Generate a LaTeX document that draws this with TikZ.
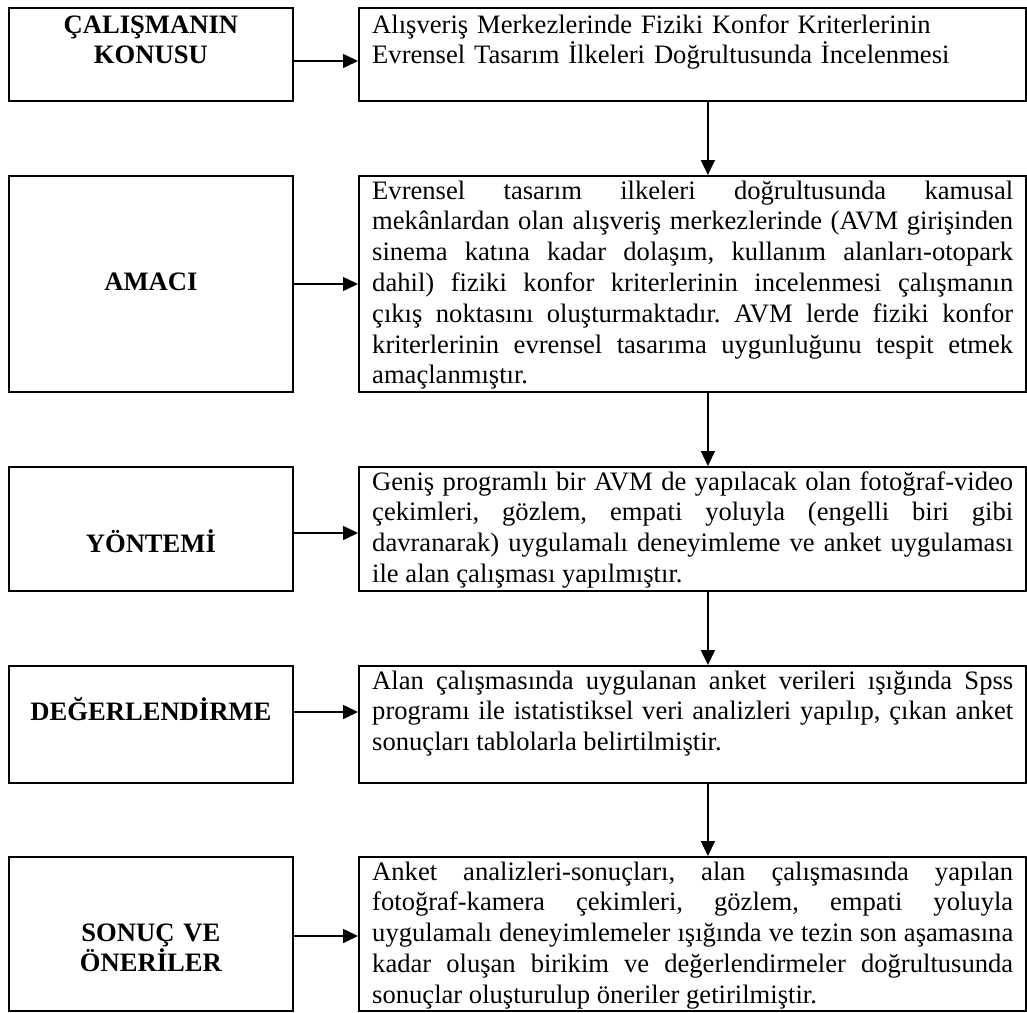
\documentclass[tikz,border=0pt]{standalone}
\usepackage{fontspec}
\setmainfont{Liberation Serif}
\usetikzlibrary{arrows.meta,calc}
\hyphenpenalty=10000
\exhyphenpenalty=10000
\tolerance=10000
\frenchspacing
\newcommand\bodysize{\fontsize{26.6}{30.8}\selectfont\frenchspacing}
\tikzset{
  box/.style={draw, line width=1.8pt, anchor=north west, inner sep=0pt},
  lbox/.style={box, minimum width=284pt},
  rbox/.style={box, minimum width=667pt},
  body/.style={anchor=base west, inner sep=0pt, text width=641pt, align=justify, font=\bodysize},
  lab/.style={anchor=base, inner sep=0pt, text width=284pt, align=center, font=\bodysize\bfseries},
  arr/.style={line width=1.6pt, -{Triangle[length=15pt,width=14pt]}},
}
\begin{document}
\begin{tikzpicture}
\fill[white] (0,0) rectangle (1027pt,-1012pt);
\useasboundingbox (0,0) rectangle (1027pt,-1012pt);

% boxes
\node[lbox, minimum height=93pt]  (l1) at (8pt,-7pt) {};
\node[rbox, minimum height=93pt]  (r1) at (358pt,-7pt) {};
\node[lbox, minimum height=216pt] (l2) at (8pt,-175pt) {};
\node[rbox, minimum height=216pt] (r2) at (358pt,-175pt) {};
\node[lbox, minimum height=124pt] (l3) at (8pt,-466pt) {};
\node[rbox, minimum height=124pt] (r3) at (358pt,-466pt) {};
\node[lbox, minimum height=117pt] (l4) at (8pt,-665pt) {};
\node[rbox, minimum height=117pt] (r4) at (358pt,-665pt) {};
\node[lbox, minimum height=154pt] (l5) at (8pt,-856pt) {};
\node[rbox, minimum height=154pt] (r5) at (358pt,-856pt) {};

% labels
\node[lab] (t1) at ($(l1.north)+(0,-26pt)$) {ÇALIŞMANIN\\KONUSU};
\node[lab] (t2) at ($(l2.north)+(0,-115pt)$) {AMACI};
\node[lab] (t3) at ($(l3.north)+(0,-86pt)$) {YÖNTEMİ};
\node[lab] (t4) at ($(l4.north)+(0,-55pt)$) {DEĞERLENDİRME};
\node[lab] (t5) at ($(l5.north)+(0,-85pt)$) {SONUÇ VE\\ÖNERİLER};

% texts
\node[body, align=left] (b1) at ($(r1.north west)+(14pt,-26pt)$)
  {Alışveriş Merkezlerinde Fiziki Konfor Kriterlerinin\\Evrensel Tasarım İlkeleri Doğrultusunda İncelenmesi};
\node[body] (b2) at ($(r2.north west)+(14pt,-24pt)$)
  {Evrensel tasarım ilkeleri doğrultusunda kamusal\linebreak
   mekânlardan olan alışveriş merkezlerinde (AVM girişinden\linebreak
   sinema katına kadar dolaşım, kullanım alanları-otopark\linebreak
   dahil) fiziki konfor kriterlerinin incelenmesi çalışmanın\linebreak
   çıkış noktasını oluşturmaktadır. AVM lerde fiziki konfor\linebreak
   kriterlerinin evrensel tasarıma uygunluğunu tespit etmek\linebreak
   amaçlanmıştır.};
\node[body] (b3) at ($(r3.north west)+(14pt,-24pt)$)
  {Geniş programlı bir AVM de yapılacak olan fotoğraf-video\linebreak
   çekimleri, gözlem, empati yoluyla (engelli biri gibi\linebreak
   davranarak) uygulamalı deneyimleme ve anket uygulaması\linebreak
   ile alan çalışması yapılmıştır.};
\node[body] (b4) at ($(r4.north west)+(14pt,-24pt)$)
  {Alan çalışmasında uygulanan anket verileri ışığında Spss\linebreak
   programı ile istatistiksel veri analizleri yapılıp, çıkan anket\linebreak
   sonuçları tablolarla belirtilmiştir.};
\node[body] (b5) at ($(r5.north west)+(14pt,-24pt)$)
  {Anket analizleri-sonuçları, alan çalışmasında yapılan\linebreak
   fotoğraf-kamera çekimleri, gözlem, empati yoluyla\linebreak
   uygulamalı deneyimlemeler ışığında ve tezin son aşamasına\linebreak
   kadar oluşan birikim ve değerlendirmeler doğrultusunda\linebreak
   sonuçlar oluşturulup öneriler getirilmiştir.};

% horizontal arrows
\draw[arr] ($(l1.north east)+(0,-54pt)$) -- ($(r1.north west)+(0,-54pt)$);
\draw[arr] ($(l2.north east)+(0,-109pt)$) -- ($(r2.north west)+(0,-109pt)$);
\draw[arr] ($(l3.north east)+(0,-67pt)$) -- ($(r3.north west)+(0,-67pt)$);
\draw[arr] ($(l4.north east)+(0,-47pt)$) -- ($(r4.north west)+(0,-47pt)$);
\draw[arr] ($(l5.north east)+(0,-80pt)$) -- ($(r5.north west)+(0,-80pt)$);

% vertical arrows
\draw[arr] ($(r1.south)+(15.5pt,0)$) -- ($(r2.north)+(15.5pt,0)$);
\draw[arr] ($(r2.south)+(15.5pt,0)$) -- ($(r3.north)+(15.5pt,0)$);
\draw[arr] ($(r3.south)+(15.5pt,0)$) -- ($(r4.north)+(15.5pt,0)$);
\draw[arr] ($(r4.south)+(15.5pt,0)$) -- ($(r5.north)+(15.5pt,0)$);
\end{tikzpicture}
\end{document}
